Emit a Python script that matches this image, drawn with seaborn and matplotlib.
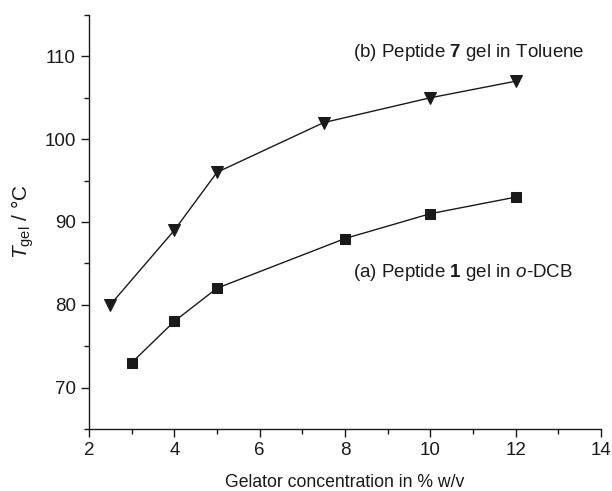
import matplotlib
matplotlib.use("Agg")
import matplotlib.pyplot as plt
import seaborn as sns
import pandas as pd
from matplotlib.ticker import MultipleLocator

conc_b = [2.5, 4, 5, 7.5, 10, 12]
tgel_b = [80, 89, 96, 102, 105, 107]
conc_a = [3, 4, 5, 8, 10, 12]
tgel_a = [73, 78, 82, 88, 91, 93]

sns.set_theme(style="ticks")
plt.rcParams['font.family'] = ['Liberation Sans', 'DejaVu Sans']
plt.rcParams['mathtext.fontset'] = 'custom'
plt.rcParams['mathtext.rm'] = 'Liberation Sans'
plt.rcParams['mathtext.it'] = 'Liberation Sans:italic'
plt.rcParams['mathtext.bf'] = 'Liberation Sans:bold'

fig = plt.figure(figsize=(6.12, 4.91), dpi=100)
ax = fig.add_axes([0.1454, 0.1263, 0.8366, 0.8432])

df_b = pd.DataFrame({"x": conc_b, "y": tgel_b})
df_a = pd.DataFrame({"x": conc_a, "y": tgel_a})
col = "#1a1a1a"
sns.lineplot(data=df_b, x="x", y="y", ax=ax, color=col, lw=1.0,
             marker="v", markersize=8.5, markeredgecolor=col, markerfacecolor=col)
sns.lineplot(data=df_a, x="x", y="y", ax=ax, color=col, lw=1.0,
             marker="s", markersize=6.5, markeredgecolor=col, markerfacecolor=col)

ax.set_xlim(2, 14)
ax.set_ylim(65, 115)
ax.xaxis.set_major_locator(MultipleLocator(2))
ax.xaxis.set_minor_locator(MultipleLocator(1))
ax.yaxis.set_major_locator(MultipleLocator(10))
ax.yaxis.set_minor_locator(MultipleLocator(5))
for s in ["top", "right"]:
    ax.spines[s].set_visible(False)
for s in ["left", "bottom"]:
    ax.spines[s].set_linewidth(1.0)
    ax.spines[s].set_color(col)
ax.tick_params(which="major", direction="out", length=6, width=1.0, labelsize=13.5, color=col, labelcolor=col)
ax.tick_params(which="minor", direction="out", length=3.5, width=1.0, color=col)

ax.set_xlabel("Gelator concentration in % w/v", fontsize=12.7, color=col, labelpad=11)
ax.set_ylabel(r"$T_{\mathrm{gel}}$ / °C", fontsize=15, color=col, labelpad=6)

ax.text(8.19, 110.5, r"(b) Peptide $\mathbf{7}$ gel in Toluene", fontsize=13.5, color=col, va="center")
ax.text(8.19, 83.9, r"(a) Peptide $\mathbf{1}$ gel in $\mathit{o}$-DCB", fontsize=13.5, color=col, va="center")

fig.savefig("out.png", dpi=100)
